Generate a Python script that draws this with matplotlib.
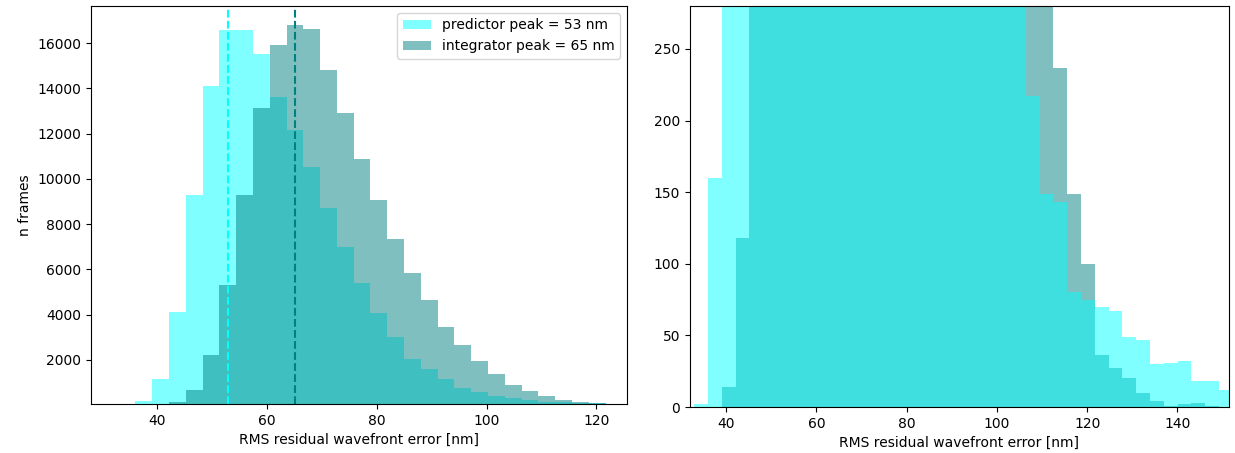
# Histogram of RMS residual wavefront error: predictor vs integrator
import matplotlib
matplotlib.use('Agg')
import matplotlib.pyplot as plt
import numpy as np

# Bin edges [nm] (shared by both panels)
bin_start = 32.94
bin_width = 3.06
n_bins = 39
bin_edges = bin_start + bin_width * np.arange(n_bins + 1)

# Frames per bin
predictor_counts = [2, 160, 1147, 4130, 9278, 14088, 16589, 16558, 15500, 13600,
                    12177, 10527, 8718, 6997, 5409, 4086, 3000, 2043, 1588, 1147,
                    750, 587, 424, 335, 217, 149, 143, 80, 75, 70,
                    67, 49, 47, 30, 31, 32, 18, 18, 12]
integrator_counts = [0, 0, 14, 118, 675, 2219, 5308, 9278, 13130, 15897,
                     16800, 16633, 14793, 12927, 10898, 9044, 7324, 5850, 4659, 3468,
                     2660, 1955, 1381, 896, 613, 410, 237, 149, 100, 36,
                     27, 20, 10, 4, 1, 2, 3, 1, 0]

# Peak = centre of the most populated bin
centres = 0.5 * (bin_edges[:-1] + bin_edges[1:])
predictor_peak = centres[np.argmax(predictor_counts)]
integrator_peak = centres[np.argmax(integrator_counts)]

fig = plt.figure(figsize=(12.35, 4.53), dpi=100)
ax1 = fig.add_axes([0.0737, 0.1082, 0.434, 0.8786])
ax2 = fig.add_axes([0.5587, 0.1015, 0.4364, 0.8852])

# Left: full histogram
ax1.hist(centres, bins=bin_edges, weights=predictor_counts, color='cyan', alpha=0.5,
         label='predictor peak = %d nm' % round(predictor_peak))
ax1.hist(centres, bins=bin_edges, weights=integrator_counts, color='teal', alpha=0.5,
         label='integrator peak = %d nm' % round(integrator_peak))
ax1.axvline(predictor_peak, color='cyan', linestyle='--')
ax1.axvline(integrator_peak, color='teal', linestyle='--')
ax1.set_xlim(27.9, 125.6)
ax1.set_ylim(bottom=50)
ax1.set_xlabel('RMS residual wavefront error [nm]')
ax1.set_ylabel('n frames')
ax1.legend(loc='upper right')

# Right: zoom on the tails
ax2.hist(centres, bins=bin_edges, weights=integrator_counts, color='teal', alpha=0.5)
ax2.hist(centres, bins=bin_edges, weights=predictor_counts, color='cyan', alpha=0.5)
ax2.set_xlim(32.0, 151.4)
ax2.set_ylim(0, 280)
ax2.set_xlabel('RMS residual wavefront error [nm]')

plt.savefig('out.png', dpi=100)
